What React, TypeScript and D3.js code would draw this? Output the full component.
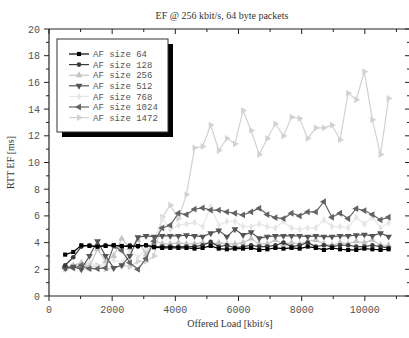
import React from "react";
import * as d3 from "d3";

const title = "EF @ 256 kbit/s, 64 byte packets";
const xTitle = "Offered Load [kbit/s]";
const yTitle = "RTT EF [ms]";

const xLoads = d3.range(2, 43).map((k) => k * 256);

const seriesNames = ["AF size 64", "AF size 128", "AF size 256", "AF size 512", "AF size 768", "AF size 1024", "AF size 1472"];

const af64 = [3.1, 3.3, 3.8, 3.75, 3.7, 3.75, 3.8, 3.75, 3.7, 3.75, 3.8, 3.65, 3.6, 3.6, 3.6, 3.6, 3.55, 3.6, 3.75, 3.55, 3.5, 3.55, 3.55, 3.6, 3.45, 3.5, 3.6, 3.55, 3.6, 3.55, 3.7, 3.6, 3.45, 3.6, 3.5, 3.45, 3.45, 3.55, 3.5, 3.45, 3.5];
const af128 = [2.3, 2.9, 3.7, 3.8, 3.7, 3.8, 3.8, 3.7, 3.8, 3.7, 3.8, 3.7, 3.7, 3.7, 3.7, 3.7, 3.7, 3.8, 4.05, 3.7, 3.8, 3.6, 3.7, 3.8, 3.7, 3.7, 3.8, 4.0, 3.7, 3.8, 4.0, 3.7, 3.8, 3.7, 3.8, 3.8, 3.7, 3.7, 3.8, 3.7, 3.6];
const af256 = [2.1, 2.3, 2.5, 2.2, 3.5, 2.6, 3.0, 4.3, 3.6, 4.2, 3.1, 4.2, 3.9, 3.9, 4.0, 3.9, 3.9, 4.0, 3.9, 4.0, 3.9, 3.9, 4.0, 4.3, 3.9, 3.9, 4.2, 3.9, 4.0, 3.9, 4.1, 4.2, 3.9, 3.8, 4.0, 3.9, 4.1, 4.0, 4.2, 3.8, 3.8];
const af512 = [2.1, 2.2, 2.0, 3.0, 4.1, 3.0, 2.1, 2.3, 3.0, 4.4, 4.5, 4.45, 4.5, 4.5, 4.5, 4.55, 4.5, 4.45, 4.7, 4.9, 4.45, 5.0, 4.57, 4.77, 4.32, 4.45, 4.5, 4.5, 4.5, 4.5, 4.45, 4.5, 4.45, 4.45, 4.5, 4.5, 4.55, 4.6, 4.5, 4.7, 4.45];
const af768 = [2.0, 2.1, 2.3, 2.5, 2.2, 2.4, 2.7, 2.5, 3.4, 2.9, 3.5, 4.2, 5.8, 5.0, 5.3, 5.4, 5.5, 5.2, 6.7, 5.3, 5.6, 5.6, 5.2, 5.2, 5.4, 5.2, 5.1, 5.6, 5.1, 5.0, 5.1, 5.1, 5.7, 5.2, 5.2, 5.1, 5.9, 5.4, 5.9, 5.1, 5.5];
const af1024 = [2.1, 2.1, 2.3, 2.05, 2.05, 2.1, 3.75, 3.4, 2.5, 2.0, 2.8, 4.1, 5.1, 5.3, 6.2, 6.1, 6.5, 6.6, 6.44, 6.44, 6.3, 6.2, 6.07, 6.3, 6.57, 6.1, 5.87, 5.8, 6.2, 6.0, 6.3, 6.3, 7.06, 5.9, 6.2, 5.8, 6.54, 6.4, 6.1, 5.7, 5.9];
const af1472 = [2.0, 2.2, 2.0, 2.1, 2.3, 2.0, 2.1, 2.3, 2.2, 2.6, 2.6, 3.0, 5.9, 6.8, 5.8, 7.6, 11.1, 11.2, 12.8, 10.9, 11.8, 11.4, 13.9, 12.4, 10.6, 11.8, 12.9, 12.0, 13.4, 13.3, 11.8, 12.6, 12.6, 12.8, 11.7, 15.2, 14.7, 16.8, 13.2, 10.6, 14.8];

const seriesValues = [af64, af128, af256, af512, af768, af1024, af1472];
const seriesColors = ["#000000", "#3a3a3a", "#c4c4c4", "#555555", "#e6e6e6", "#636363", "#d2d2d2"];
const seriesMarkers = ["square", "circle", "up", "down", "diamond", "left", "right"];

const xTicks = [0, 2000, 4000, 6000, 8000, 10000];
const xMinor = d3.range(0, 11001, 1000);
const yTicks = [0, 2, 4, 6, 8, 10, 12, 14, 16, 18, 20];
const yMinor = d3.range(0, 21, 1);

const W = 409;
const H = 338;
const left = 49;
const right = 410;
const top = 29;
const bottom = 296;

const x = d3.scaleLinear().domain([0, 11430]).range([left, right]);
const y = d3.scaleLinear().domain([0, 20]).range([bottom, top]);

function markerPath(kind: string): { d: string; rot: number } {
  const tri = d3.symbol().type(d3.symbolTriangle).size(20)() as string;
  switch (kind) {
    case "square":
      return { d: d3.symbol().type(d3.symbolSquare).size(17)() as string, rot: 0 };
    case "circle":
      return { d: d3.symbol().type(d3.symbolCircle).size(17)() as string, rot: 0 };
    case "diamond":
      return { d: d3.symbol().type(d3.symbolDiamond).size(18)() as string, rot: 0 };
    case "up":
      return { d: tri, rot: 0 };
    case "down":
      return { d: tri, rot: 180 };
    case "left":
      return { d: tri, rot: -90 };
    case "right":
      return { d: tri, rot: 90 };
  }
  return { d: tri, rot: 0 };
}

export default function App() {
  const line = d3
    .line<number>()
    .x((_, i) => x(xLoads[i]))
    .y((v) => y(v));

  const mono = "'Liberation Mono', 'DejaVu Sans Mono', monospace";
  const serif = "'Liberation Serif', 'DejaVu Serif', serif";
  const axisColor = "#222";
  const labelColor = "#555";

  const legX = 57;
  const legY = 39;
  const legW = 111;
  const legH = 93;
  const legRows = seriesNames.map((_, i) => legY + 15 + i * 10.6);

  const order = [6, 4, 2, 5, 3, 1, 0];

  return (
    <svg width={W} height={H} style={{ position: "absolute", left: 0, top: 0, background: "#fff" }}>
      <rect x={0} y={0} width={W} height={H} fill="#fff" />
      <text x={222} y={19} textAnchor="middle" fontFamily={serif} fontSize={10} fill="#333">
        {title}
      </text>

      {/* series */}
      {order.map((si) => {
        const vals = seriesValues[si];
        const m = markerPath(seriesMarkers[si]);
        return (
          <g key={si}>
            <path d={line(vals) as string} fill="none" stroke={seriesColors[si]} strokeWidth={1.2} />
            {vals.map((v, i) => (
              <path
                key={i}
                d={m.d}
                transform={`translate(${x(xLoads[i])},${y(v)}) rotate(${m.rot})`}
                fill={seriesColors[si]}
              />
            ))}
          </g>
        );
      })}

      {/* axes */}
      <line x1={left} x2={left} y1={top} y2={bottom} stroke={axisColor} strokeWidth={1.2} />
      <line x1={left} x2={right} y1={bottom} y2={bottom} stroke={axisColor} strokeWidth={1.2} />
      <line x1={left} x2={right} y1={top} y2={top} stroke={axisColor} strokeWidth={1.2} />
      <line x1={right} x2={right} y1={top} y2={bottom} stroke={axisColor} strokeWidth={1.2} />

      {xMinor.map((t) => {
        const major = t % 2000 === 0;
        return (
          <g key={"xt" + t}>
            <line x1={x(t)} x2={x(t)} y1={bottom} y2={bottom + (major ? 5 : 3)} stroke={axisColor} />
            <line x1={x(t)} x2={x(t)} y1={top} y2={top + (major ? 5 : 3)} stroke={axisColor} />
          </g>
        );
      })}
      {xTicks.map((t) => (
        <text key={"xl" + t} x={x(t)} y={313} textAnchor="middle" fontFamily={mono} fontSize={10} fill={labelColor}>
          {t}
        </text>
      ))}

      {yMinor.map((t) => {
        const major = t % 2 === 0;
        return (
          <g key={"yt" + t}>
            <line x1={left - (major ? 5 : 3)} x2={left} y1={y(t)} y2={y(t)} stroke={axisColor} />
            <line x1={right - (major ? 5 : 3)} x2={right} y1={y(t)} y2={y(t)} stroke={axisColor} />
          </g>
        );
      })}
      {yTicks.map((t) => (
        <text key={"yl" + t} x={40} y={y(t)} dy="0.35em" textAnchor="end" fontFamily={mono} fontSize={10} fill={labelColor}>
          {t}
        </text>
      ))}

      <text x={230} y={327} textAnchor="middle" fontFamily={serif} fontSize={10} fill="#333">
        {xTitle}
      </text>
      <text
        transform={`translate(14,${(top + bottom) / 2}) rotate(-90)`}
        textAnchor="middle"
        fontFamily={serif}
        fontSize={10}
        fill="#333"
      >
        {yTitle}
      </text>

      {/* legend */}
      <rect x={legX + 5} y={legY + 5} width={legW} height={legH} fill="#000" />
      <rect x={legX} y={legY} width={legW} height={legH} fill="#fff" stroke="#333" strokeWidth={1} />
      {seriesNames.map((name, i) => {
        const m = markerPath(seriesMarkers[i]);
        const ly = legRows[i];
        return (
          <g key={"lg" + i}>
            <line x1={69} x2={89} y1={ly} y2={ly} stroke={seriesColors[i]} strokeWidth={1.2} />
            <path d={m.d} transform={`translate(79,${ly}) rotate(${m.rot})`} fill={seriesColors[i]} />
            <text x={93} y={ly} dy="0.35em" fontFamily={mono} fontSize={9} fill="#555">
              {name}
            </text>
          </g>
        );
      })}
    </svg>
  );
}
